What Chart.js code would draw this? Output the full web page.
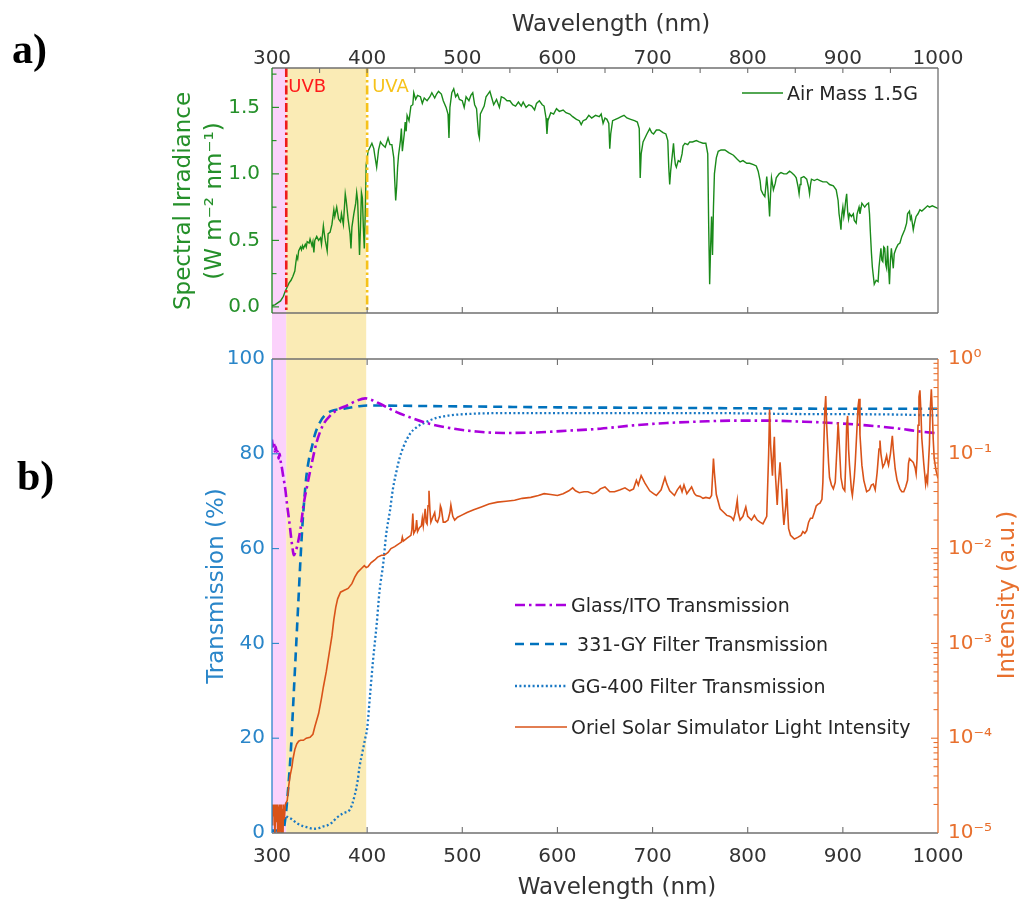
<!DOCTYPE html>
<html><head><meta charset="utf-8">
<script src="https://cdn.jsdelivr.net/npm/chart.js@4.4.1/dist/chart.umd.min.js"></script>
<style>
html,body{margin:0;padding:0;background:#fff;}
#wrap{position:relative;width:1021px;height:899px;background:#fff;overflow:hidden;}
canvas{position:absolute;left:0;}
#cA{top:0}
#cB{top:337px}
</style></head><body>
<div id="wrap"><canvas id="cA" width="1021" height="337"></canvas><canvas id="cB" width="1021" height="562"></canvas></div>
<script>
// ---------- tick labels / categories ----------
const wlTicks = [300,400,500,600,700,800,900,1000];
const irrTicks = [0,0.5,1.0,1.5];
const irrMinor = [0.25,0.75,1.25,1.75];
const transTicks = [0,20,40,60,80,100];
const intensityTicks = [1e-5,1e-4,1e-3,1e-2,1e-1,1];
const intensityTickLabels = ['10\u207B\u2075','10\u207B\u2074','10\u207B\u00B3','10\u207B\u00B2','10\u207B\u00B9','10\u2070'];
const uvbBand = [300,315];
const uvaBand = [315,399];
const uvbLine = 315, uvaLine = 400;

// ---------- (a) AM1.5G spectral irradiance ----------
const amWl = [
300,303,306,309,312,314,316,318,320,322,
324,325,326,327,328,330,331,332,333,335,
336,337,339,340,342,343,344,345,347,349,
351,352,354,355,356,358,359,361,363,365,
366,368,370,372,373,375,377,378,380,382,
383,384,386,388,389,390,391,392,393,394,
395,396,397,398,399,401,403,405,407,408,
410,412,414,416,419,422,424,426,428,429,
430,431,432,433,435,436,437,439,440,441,
442,444,446,448,449,451,453,456,458,460,
463,466,468,471,473,475,478,480,483,485,
486,487,489,491,493,495,497,500,502,504,
507,509,511,513,515,517,518,519,521,523,
525,527,529,531,533,536,539,541,544,547,
550,553,556,559,562,564,567,570,573,576,
578,581,584,586,588,589,590,593,596,599,
602,606,609,613,616,620,623,625,627,630,
633,636,640,644,646,648,650,652,654,655,
656,658,661,664,667,670,673,677,681,684,
686,687,688,690,692,694,697,699,701,704,
707,711,714,716,717,718,719,720,721,722,
723,724,725,727,729,731,732,734,737,739,
742,746,749,753,756,758,759,760,761,762,
763,764,765,767,769,772,776,780,785,789,
792,795,799,802,806,809,811,813,814,816,
818,819,820,821,822,823,824,825,827,829,
830,833,835,838,841,844,846,849,851,853,
854,855,856,859,862,864,865,866,867,870,
873,876,879,883,886,890,893,895,896,897,
898,899,900,901,902,903,904,905,906,907,
909,911,912,914,915,917,918,920,922,923,
925,927,928,929,930,931,933,935,937,938,
940,941,942,943,944,945,946,947,948,949,
950,951,952,953,954,956,958,960,962,965,
967,968,970,971,972,974,975,977,979,981,
983,986,989,991,994,997,1000];
const amIrr = [
0.01,0.015,0.03,0.045,0.08,0.12,0.15,0.18,0.20,0.23,
0.27,0.33,0.38,0.36,0.42,0.45,0.43,0.46,0.44,0.47,
0.45,0.49,0.48,0.51,0.46,0.49,0.41,0.50,0.53,0.50,
0.52,0.47,0.61,0.55,0.50,0.42,0.55,0.56,0.62,0.73,
0.68,0.75,0.66,0.64,0.70,0.62,0.85,0.80,0.66,0.55,
0.44,0.60,0.70,0.78,0.86,0.80,0.60,0.39,0.60,0.86,
0.82,0.60,0.44,0.70,1.07,1.17,1.20,1.23,1.19,1.14,
1.05,1.18,1.24,1.22,1.20,1.27,1.22,1.22,1.12,0.95,
0.80,0.90,1.05,1.14,1.25,1.34,1.17,1.30,1.39,1.32,
1.44,1.40,1.51,1.52,1.61,1.56,1.59,1.58,1.53,1.57,
1.55,1.58,1.61,1.57,1.60,1.62,1.60,1.55,1.50,1.45,
1.27,1.50,1.61,1.64,1.58,1.60,1.56,1.55,1.50,1.58,
1.55,1.59,1.61,1.52,1.49,1.30,1.27,1.45,1.48,1.51,
1.58,1.60,1.62,1.57,1.52,1.56,1.50,1.58,1.57,1.55,
1.55,1.52,1.51,1.54,1.51,1.54,1.50,1.52,1.51,1.48,
1.53,1.55,1.52,1.51,1.42,1.30,1.40,1.46,1.45,1.49,
1.47,1.48,1.46,1.45,1.43,1.41,1.40,1.37,1.40,1.41,
1.44,1.42,1.44,1.43,1.45,1.38,1.42,1.41,1.38,1.19,
1.30,1.40,1.41,1.42,1.43,1.44,1.42,1.41,1.40,1.39,
1.34,0.97,1.15,1.24,1.27,1.30,1.34,1.31,1.30,1.33,
1.33,1.31,1.30,1.25,1.05,0.92,1.02,1.09,1.16,1.23,
1.13,1.07,1.05,1.10,1.09,1.15,1.21,1.23,1.22,1.24,
1.24,1.25,1.24,1.23,1.23,1.15,0.60,0.17,0.45,0.68,
0.39,0.75,1.00,1.12,1.17,1.18,1.18,1.16,1.14,1.11,
1.09,1.10,1.08,1.08,1.07,1.06,1.02,0.95,0.88,0.85,
0.83,0.90,0.98,0.90,0.80,0.68,0.85,0.97,0.88,0.93,
0.97,1.00,1.01,1.00,1.00,1.02,1.01,0.99,0.97,0.90,
0.85,0.92,0.97,0.98,0.96,0.90,0.85,0.92,0.96,0.95,
0.96,0.95,0.94,0.94,0.92,0.91,0.88,0.80,0.70,0.65,
0.58,0.70,0.75,0.68,0.73,0.80,0.85,0.72,0.66,0.70,
0.68,0.70,0.65,0.63,0.70,0.75,0.70,0.78,0.76,0.75,
0.77,0.78,0.70,0.55,0.41,0.30,0.17,0.20,0.19,0.30,
0.44,0.35,0.34,0.45,0.44,0.32,0.29,0.46,0.30,0.17,
0.35,0.44,0.36,0.29,0.40,0.44,0.47,0.48,0.53,0.58,
0.63,0.70,0.72,0.66,0.68,0.58,0.62,0.68,0.70,0.73,
0.72,0.74,0.76,0.75,0.76,0.75,0.74];

// ---------- (b) transmissions (%) ----------
const glassWl = [300,301,302,303,304,305,306,307,308,309,310,312,314,316,318,320,322,323,325,327,
330,333,337,342,347,354,361,368,379,389,398,403,414,431,449,466,491,515,543,578,613,645,
680,715,750,785,820,855,890,925,960,977,1000];
const glassT = [83,81.5,82.5,80.5,81.5,80,80.5,79,80,78.5,77.5,75,72.5,69,66,62.5,59.5,58.6,59.5,61,
64.2,69,73.3,78.2,82.5,86.2,88,89.2,90.2,91.2,91.7,91.5,90.5,88.8,87.4,86.3,85.3,84.7,84.4,84.5,84.9,85.3,
86,86.5,86.8,87,87,86.8,86.5,86,85.3,84.8,84.3];

const gy331Wl = [300,312,314,316,318,320,322,324,326,328,330,332,334,336,339,342,345,350,355,362,
375,390,400,450,500,600,700,800,900,1000];
const gy331T = [0.5,0.8,3,7,12,18,26,34,42,50,58,65,70.5,75,79,81.5,84,86.5,88,89,
89.5,90,90.2,90.1,90,89.8,89.7,89.6,89.5,89.5];

const gg400Wl = [315,320,326,332,337,344,350,354,358,363,368,375,382,387,390,392,395,398,400,403,
406,410,413,417,420,424,427,431,434,438,445,452,462,473,487,505,557,641,750,850,950,1000];
const gg400T = [3.5,3.0,2.1,1.5,1.2,0.9,1.1,1.4,1.6,2.2,3.2,4.2,5.0,8.0,11,14,17,20,22,29,
36,44,51,57,63,68,72.5,76.5,79,81.4,84.2,85.6,86.7,87.6,88.1,88.4,88.6,88.6,88.6,88.4,88.3,88.1];

// ---------- (b) Oriel solar simulator intensity (a.u.) ----------
const oriWl = [
300,300.5,301,302,302.5,303,304,305,305.5,306,
307,307.5,308,309,309.5,310,311,311.5,312,313,
314,315,316,317.5,319,321,322,324,326,328,
330,333,336,340,343,345,349,352,354,357,
360,363,365,367,369,372,376,380,384,387,
390,394,397,399,401,404,408,411,415,418,
422,425,429,432,436,437,438,442,446,447,
448,449,451,452,453,455,457,458,459,461,
462,463,464,465,466,467,469,471,472,474,
476,477,478,480,482,485,487,488,490,492,
495,499,505,512,520,528,537,546,555,563,
572,580,586,593,600,606,612,616,619,623,
628,632,637,640,643,645,650,655,660,666,
671,676,680,683,685,688,692,697,701,704,
709,713,715,718,723,726,729,731,733,736,
741,744,746,750,753,756,760,762,764,765,
767,771,775,778,781,783,785,787,789,790,
792,795,798,800,804,807,810,813,816,818,
820,822,823,824,826,827,828,829,831,832,
834,835,837,838,840,841,842,843,845,847,
849,851,853,856,858,860,862,864,866,868,
870,872,874,876,878,879,880,881,882,883,
885,886,888,890,892,894,895,896,898,900,
902,903,904,905,906,907,909,910,912,913,
915,916,917,918,920,922,925,928,930,932,
934,936,938,939,940,942,944,946,947,948,
950,952,953,955,957,960,962,964,966,968,
969,970,972,974,976,977,978,979,980,981,
982,983,985,987,988,989,991,992,993,994,
995,996,998,1000];
const oriInt = [
2.0e-5,1.2e-5,2.0e-5,1.5e-5,2.0e-5,0.9e-5,2.0e-5,1.3e-5,2.0e-5,0.8e-5,
1.9e-5,0.7e-5,2.0e-5,1.1e-5,2.0e-5,0.6e-5,1.8e-5,0.8e-5,2.0e-5,1.4e-5,
2.0e-5,2.1e-5,2.2e-5,3.1e-5,4.0e-5,5.0e-5,6.0e-5,7.6e-5,8.7e-5,9.3e-5,
9.5e-5,9.5e-5,1.0e-4,1.02e-4,1.1e-4,1.32e-4,1.82e-4,2.63e-4,3.47e-4,5.0e-4,
7.76e-4,1.2e-3,1.78e-3,2.4e-3,2.95e-3,3.47e-3,3.63e-3,3.8e-3,4.27e-3,5.0e-3,
5.62e-3,6.17e-3,6.6e-3,6.3e-3,6.46e-3,7.08e-3,7.59e-3,8.13e-3,8.5e-3,8.5e-3,
9.1e-3,1.0e-2,1.05e-2,1.1e-2,1.17e-2,1.32e-2,1.2e-2,1.29e-2,1.38e-2,1.58e-2,
2.34e-2,1.45e-2,1.58e-2,2.0e-2,1.51e-2,1.66e-2,1.74e-2,2.09e-2,1.74e-2,2.63e-2,
1.9e-2,1.82e-2,2.82e-2,4.07e-2,2.51e-2,1.9e-2,2.14e-2,2.4e-2,2.0e-2,1.9e-2,
2.19e-2,2.82e-2,2.63e-2,1.9e-2,1.9e-2,2.0e-2,2.4e-2,2.88e-2,2.19e-2,2.0e-2,
2.14e-2,2.24e-2,2.4e-2,2.57e-2,2.75e-2,2.95e-2,3.09e-2,3.16e-2,3.24e-2,3.39e-2,
3.47e-2,3.63e-2,3.8e-2,3.72e-2,3.63e-2,3.8e-2,4.07e-2,4.37e-2,4.07e-2,3.89e-2,
3.98e-2,3.98e-2,3.8e-2,3.89e-2,4.07e-2,4.27e-2,4.47e-2,3.98e-2,3.98e-2,4.17e-2,
4.37e-2,4.07e-2,4.27e-2,5.25e-2,4.68e-2,5.89e-2,4.9e-2,4.07e-2,3.8e-2,3.63e-2,
4.17e-2,5.62e-2,4.79e-2,4.07e-2,3.63e-2,4.17e-2,4.57e-2,3.98e-2,4.68e-2,3.8e-2,
4.47e-2,3.8e-2,3.63e-2,3.55e-2,3.39e-2,3.47e-2,3.39e-2,3.63e-2,8.91e-2,6.31e-2,
3.72e-2,2.63e-2,2.4e-2,2.24e-2,2.19e-2,2.14e-2,2.0e-2,2.4e-2,3.24e-2,2.4e-2,
2.0e-2,2.19e-2,2.75e-2,2.19e-2,2.0e-2,2.24e-2,2.0e-2,1.9e-2,1.82e-2,2.0e-2,
2.19e-2,0.1,0.295,0.126,5.89e-2,0.1,0.151,6.31e-2,2.88e-2,4.47e-2,
8.13e-2,5.62e-2,2.51e-2,1.78e-2,2.82e-2,4.27e-2,2.51e-2,1.62e-2,1.38e-2,1.32e-2,
1.26e-2,1.29e-2,1.32e-2,1.38e-2,1.51e-2,1.45e-2,1.55e-2,1.9e-2,2.09e-2,2.09e-2,
2.4e-2,2.82e-2,2.95e-2,3.02e-2,3.31e-2,5.0e-2,0.126,0.282,0.407,0.2,
7.94e-2,5.62e-2,4.68e-2,4.27e-2,5.0e-2,0.126,0.214,0.141,5.62e-2,4.37e-2,
4.07e-2,7.94e-2,0.2,0.251,0.112,7.59e-2,4.17e-2,3.63e-2,5.62e-2,7.94e-2,
0.2,0.316,0.38,0.158,7.59e-2,5.25e-2,3.98e-2,4.17e-2,4.68e-2,4.79e-2,
4.17e-2,6.31e-2,0.112,0.138,0.1,7.24e-2,7.94e-2,9.55e-2,8.32e-2,7.59e-2,
0.1,0.155,0.112,6.92e-2,5.25e-2,4.27e-2,3.98e-2,3.98e-2,4.47e-2,5.25e-2,
7.94e-2,8.91e-2,8.51e-2,8.13e-2,7.08e-2,6.17e-2,8.91e-2,0.2,0.398,0.468,
0.282,0.145,7.94e-2,4.79e-2,5.62e-2,5.0e-2,0.126,0.316,0.479,0.282,
0.141,8.91e-2,6.61e-2,5.5e-2];

// ---------- styling ----------
const FONT = '"DejaVu Sans", Verdana, sans-serif';
const GREEN = '#1a8a1a', GREEN_TXT = '#25902a';
const PURPLE = '#aa00dd', BLUE_DASH = '#0072bd', BLUE_DOT = '#1a78c4', ORANGE = '#d95319';
const BLUE_TXT = '#2a86c9', ORANGE_TXT = '#e8702e';
const PINK = '#fbd2fb', YELLOW = '#faebb5';
const FRAME = '#6f6f6f';
const TICKF = 20, LEGF = 19, TITLEF = 23;

function pts(xs, ys){ return xs.map((x,i)=>({x:x, y:ys[i]})); }
function setTicks(vals){ return s => { s.ticks = vals.map(v=>({value:v})); }; }
function hiddenAxis(pos, size){
  return {type:'linear', position:pos, min:0, max:1, display:true,
    ticks:{display:false}, grid:{display:false, drawTicks:false}, border:{display:false},
    afterFit: s => { if (pos==='left'||pos==='right') s.width = size; else s.height = size; }};
}
function line(ctx, x1,y1,x2,y2,color,w,dash){
  ctx.save(); ctx.strokeStyle=color; ctx.lineWidth=w; ctx.setLineDash(dash||[]);
  ctx.beginPath(); ctx.moveTo(x1,y1); ctx.lineTo(x2,y2); ctx.stroke(); ctx.restore();
}
function hTicks(ctx, scale, vals, a, side, len, color){
  vals.forEach(v=>{ const p = scale.getPixelForValue(v);
    if (p <= a.left+1 || p >= a.right-1) return;
    if (side==='top') line(ctx,p,a.top,p,a.top+len,color,1.1);
    else line(ctx,p,a.bottom,p,a.bottom-len,color,1.1); });
}
function vTicks(ctx, scale, vals, a, side, len, color){
  vals.forEach(v=>{ const p = scale.getPixelForValue(v);
    if (p <= a.top+1 || p >= a.bottom-1) return;
    if (side==='left') line(ctx,a.left,p,a.left+len,p,color,1.1);
    else line(ctx,a.right,p,a.right-len,p,color,1.1); });
}
function text(ctx, str, x, y, font, color, align, rot){
  ctx.save(); ctx.font=font; ctx.fillStyle=color; ctx.textAlign=align||'left'; ctx.textBaseline='alphabetic';
  ctx.translate(x,y); if (rot) ctx.rotate(rot); ctx.fillText(str,0,0); ctx.restore();
}
function bands(chart, y0, y1){
  const ctx = chart.ctx, x = chart.scales.x;
  ctx.save();
  const p0 = x.getPixelForValue(uvbBand[0]), p1 = x.getPixelForValue(uvbBand[1]), p2 = x.getPixelForValue(uvaBand[1]);
  ctx.fillStyle = PINK; ctx.fillRect(p0, y0, p1-p0, y1-y0);
  ctx.fillStyle = YELLOW; ctx.fillRect(p1, y0, p2-p1, y1-y0);
  ctx.restore();
}
function legendItem(ctx, x0, x1, y, ds, label){
  line(ctx, x0, y, x1, y, ds.borderColor, ds.borderWidth, ds.borderDash);
  text(ctx, label, x1+4, y+7, LEGF+'px '+FONT, '#262626', 'left');
}

// ---------- chart (a) ----------
const decorA = {
  id:'decorA',
  beforeDatasetsDraw(chart){ bands(chart, chart.chartArea.top, chart.height); },
  afterDatasetsDraw(chart){
    const ctx = chart.ctx, a = chart.chartArea, x = chart.scales.x, y = chart.scales.y;
    const pb = x.getPixelForValue(uvbLine), pa = x.getPixelForValue(uvaLine);
    line(ctx, pb, a.top, pb, a.bottom, '#ee1c1c', 2.6, [9,3,2.5,3]);
    line(ctx, pa, a.top, pa, a.bottom, '#f6c21a', 2.6, [9,3,2.5,3]);
    text(ctx, 'UVB', pb+2, a.top+24, '18px '+FONT, '#ff1a1a', 'left');
    text(ctx, 'UVA', pa+5, a.top+24, '18px '+FONT, '#f6c21a', 'left');
    hTicks(ctx, x, [350,400,450,500,550,600,650,700,750,800,850,900,950], a, 'top', 5, FRAME);
    hTicks(ctx, x, wlTicks, a, 'bottom', 6, FRAME);
    vTicks(ctx, y, irrTicks, a, 'left', 7, GREEN);
    vTicks(ctx, y, irrMinor, a, 'left', 4.5, GREEN);
    line(ctx, a.left, a.top, a.right, a.top, FRAME, 1.3);
    line(ctx, a.left, a.bottom, a.right, a.bottom, FRAME, 1.3);
    line(ctx, a.right, a.top, a.right, a.bottom, FRAME, 1.3);
    line(ctx, a.left, a.top, a.left, a.bottom, GREEN, 1.3);
    // legend
    legendItem(ctx, 742, 783, 93, chart.data.datasets[0], chart.data.datasets[0].label);
    // titles
    text(ctx, 'Wavelength (nm)', 611, 31, TITLEF+'px '+FONT, '#333', 'center');
    text(ctx, 'Spectral Irradiance', 190, 201, TITLEF+'px '+FONT, GREEN_TXT, 'center', -Math.PI/2);
    text(ctx, '(W m\u207B\u00B2 nm\u207B\u00B9)', 221, 201, TITLEF+'px '+FONT, GREEN_TXT, 'center', -Math.PI/2);
    text(ctx, 'a)', 12, 63, 'bold 42px "Liberation Serif", "Times New Roman", serif', '#000', 'left');
  }
};

new Chart(document.getElementById('cA'), {
  type:'line',
  data:{datasets:[{label:'Air Mass 1.5G', data:pts(amWl, amIrr), borderColor:GREEN, borderWidth:1.4,
    pointRadius:0, fill:false, tension:0}]},
  options:{
    responsive:false, animation:false, devicePixelRatio:1,
    layout:{padding:0},
    plugins:{legend:{display:false}, tooltip:{enabled:false}},
    scales:{
      x:{type:'linear', position:'top', min:300, max:1000, afterBuildTicks:setTicks(wlTicks),
        afterFit:s=>{s.height=68}, grid:{display:false, drawTicks:false}, border:{display:false},
        ticks:{font:{family:FONT,size:TICKF}, color:'#333', padding:-3, maxRotation:0, autoSkip:false, callback:v=>String(v)}},
      xb: hiddenAxis('bottom', 18),
      y:{type:'linear', position:'left', min:-0.046, max:1.796, afterBuildTicks:setTicks(irrTicks),
        afterFit:s=>{s.width=272}, grid:{display:false, drawTicks:false}, border:{display:false},
        ticks:{font:{family:FONT,size:TICKF}, color:GREEN_TXT, padding:12, callback:v=>v.toFixed(1)}},
      yr: hiddenAxis('right', 83)
    }
  },
  plugins:[decorA]
});

// ---------- chart (b) ----------
const decorB = {
  id:'decorB',
  beforeDatasetsDraw(chart){ bands(chart, 0, chart.chartArea.bottom); },
  afterDatasetsDraw(chart){
    const ctx = chart.ctx, a = chart.chartArea, x = chart.scales.x, y = chart.scales.y, yr = chart.scales.yr;
    hTicks(ctx, x, wlTicks, a, 'top', 6, FRAME);
    hTicks(ctx, x, wlTicks, a, 'bottom', 6, FRAME);
    vTicks(ctx, y, transTicks, a, 'left', 7, BLUE_TXT);
    vTicks(ctx, yr, intensityTicks, a, 'right', 7, ORANGE_TXT);
    const minor = [];
    intensityTicks.slice(0,-1).forEach(d=>{ [2,3,4,5,6,7,8,9].forEach(k=>minor.push(k*d)); });
    vTicks(ctx, yr, minor, a, 'right', 4.5, ORANGE_TXT);
    line(ctx, a.left, a.top, a.right, a.top, FRAME, 1.3);
    line(ctx, a.left, a.bottom, a.right, a.bottom, FRAME, 1.3);
    line(ctx, a.left, a.top, a.left, a.bottom, BLUE_TXT, 1.3);
    line(ctx, a.right, a.top, a.right, a.bottom, ORANGE_TXT, 1.3);
    // legend (order as in reference)
    const ds = chart.data.datasets;
    const rows = [[1,268],[2,307],[3,349],[0,390]];
    rows.forEach(r=>{ const d = ds[r[0]]; legendItem(ctx, 515, 567, r[1], d, d.label); });
    // titles
    text(ctx, 'Wavelength (nm)', 617, 557, TITLEF+'px '+FONT, '#333', 'center');
    text(ctx, 'Transmission (%)', 223, 249, TITLEF+'px '+FONT, BLUE_TXT, 'center', -Math.PI/2);
    text(ctx, 'Intensity (a.u.)', 1014, 258, TITLEF+'px '+FONT, ORANGE_TXT, 'center', -Math.PI/2);
    text(ctx, 'b)', 17, 153, 'bold 42px "Liberation Serif", "Times New Roman", serif', '#000', 'left');
  }
};

new Chart(document.getElementById('cB'), {
  type:'line',
  data:{datasets:[
    {label:'Oriel Solar Simulator Light Intensity', data:pts(oriWl, oriInt), yAxisID:'yr',
      borderColor:ORANGE, borderWidth:1.6, pointRadius:0, fill:false, tension:0, order:0},
    {label:'Glass/ITO Transmission', data:pts(glassWl, glassT), yAxisID:'y',
      borderColor:PURPLE, borderWidth:2.6, borderDash:[10,4,2.5,4], pointRadius:0, fill:false, cubicInterpolationMode:'monotone', order:1},
    {label:' 331-GY Filter Transmission', data:pts(gy331Wl, gy331T), yAxisID:'y',
      borderColor:BLUE_DASH, borderWidth:2.6, borderDash:[9,6], pointRadius:0, fill:false, cubicInterpolationMode:'monotone', order:2},
    {label:'GG-400 Filter Transmission', data:pts(gg400Wl, gg400T), yAxisID:'y',
      borderColor:BLUE_DOT, borderWidth:2.3, borderDash:[2,2.4], pointRadius:0, fill:false, cubicInterpolationMode:'monotone', order:3}
  ]},
  options:{
    responsive:false, animation:false, devicePixelRatio:1,
    layout:{padding:0},
    plugins:{legend:{display:false}, tooltip:{enabled:false}},
    scales:{
      x:{type:'linear', position:'bottom', min:300, max:1000, afterBuildTicks:setTicks(wlTicks),
        afterFit:s=>{s.height=66}, grid:{display:false, drawTicks:false}, border:{display:false},
        ticks:{font:{family:FONT,size:TICKF}, color:'#333', padding:12, maxRotation:0, autoSkip:false, callback:v=>String(v)}},
      xt: hiddenAxis('top', 21),
      y:{type:'linear', position:'left', min:0, max:100, afterBuildTicks:setTicks(transTicks),
        afterFit:s=>{s.width=272}, grid:{display:false, drawTicks:false}, border:{display:false},
        ticks:{font:{family:FONT,size:TICKF}, color:BLUE_TXT, padding:7}},
      yr:{type:'logarithmic', position:'right', min:1e-5, max:1, afterBuildTicks:setTicks(intensityTicks),
        afterFit:s=>{s.width=83}, grid:{display:false, drawTicks:false}, border:{display:false},
        ticks:{font:{family:FONT,size:TICKF}, color:ORANGE_TXT, padding:10,
          callback:v=>{ const i = intensityTicks.findIndex(t=>Math.abs(Math.log10(t)-Math.log10(v))<1e-6); return i>=0 ? intensityTickLabels[i] : ''; }}}
    }
  },
  plugins:[decorB]
});
</script>
</body></html>
